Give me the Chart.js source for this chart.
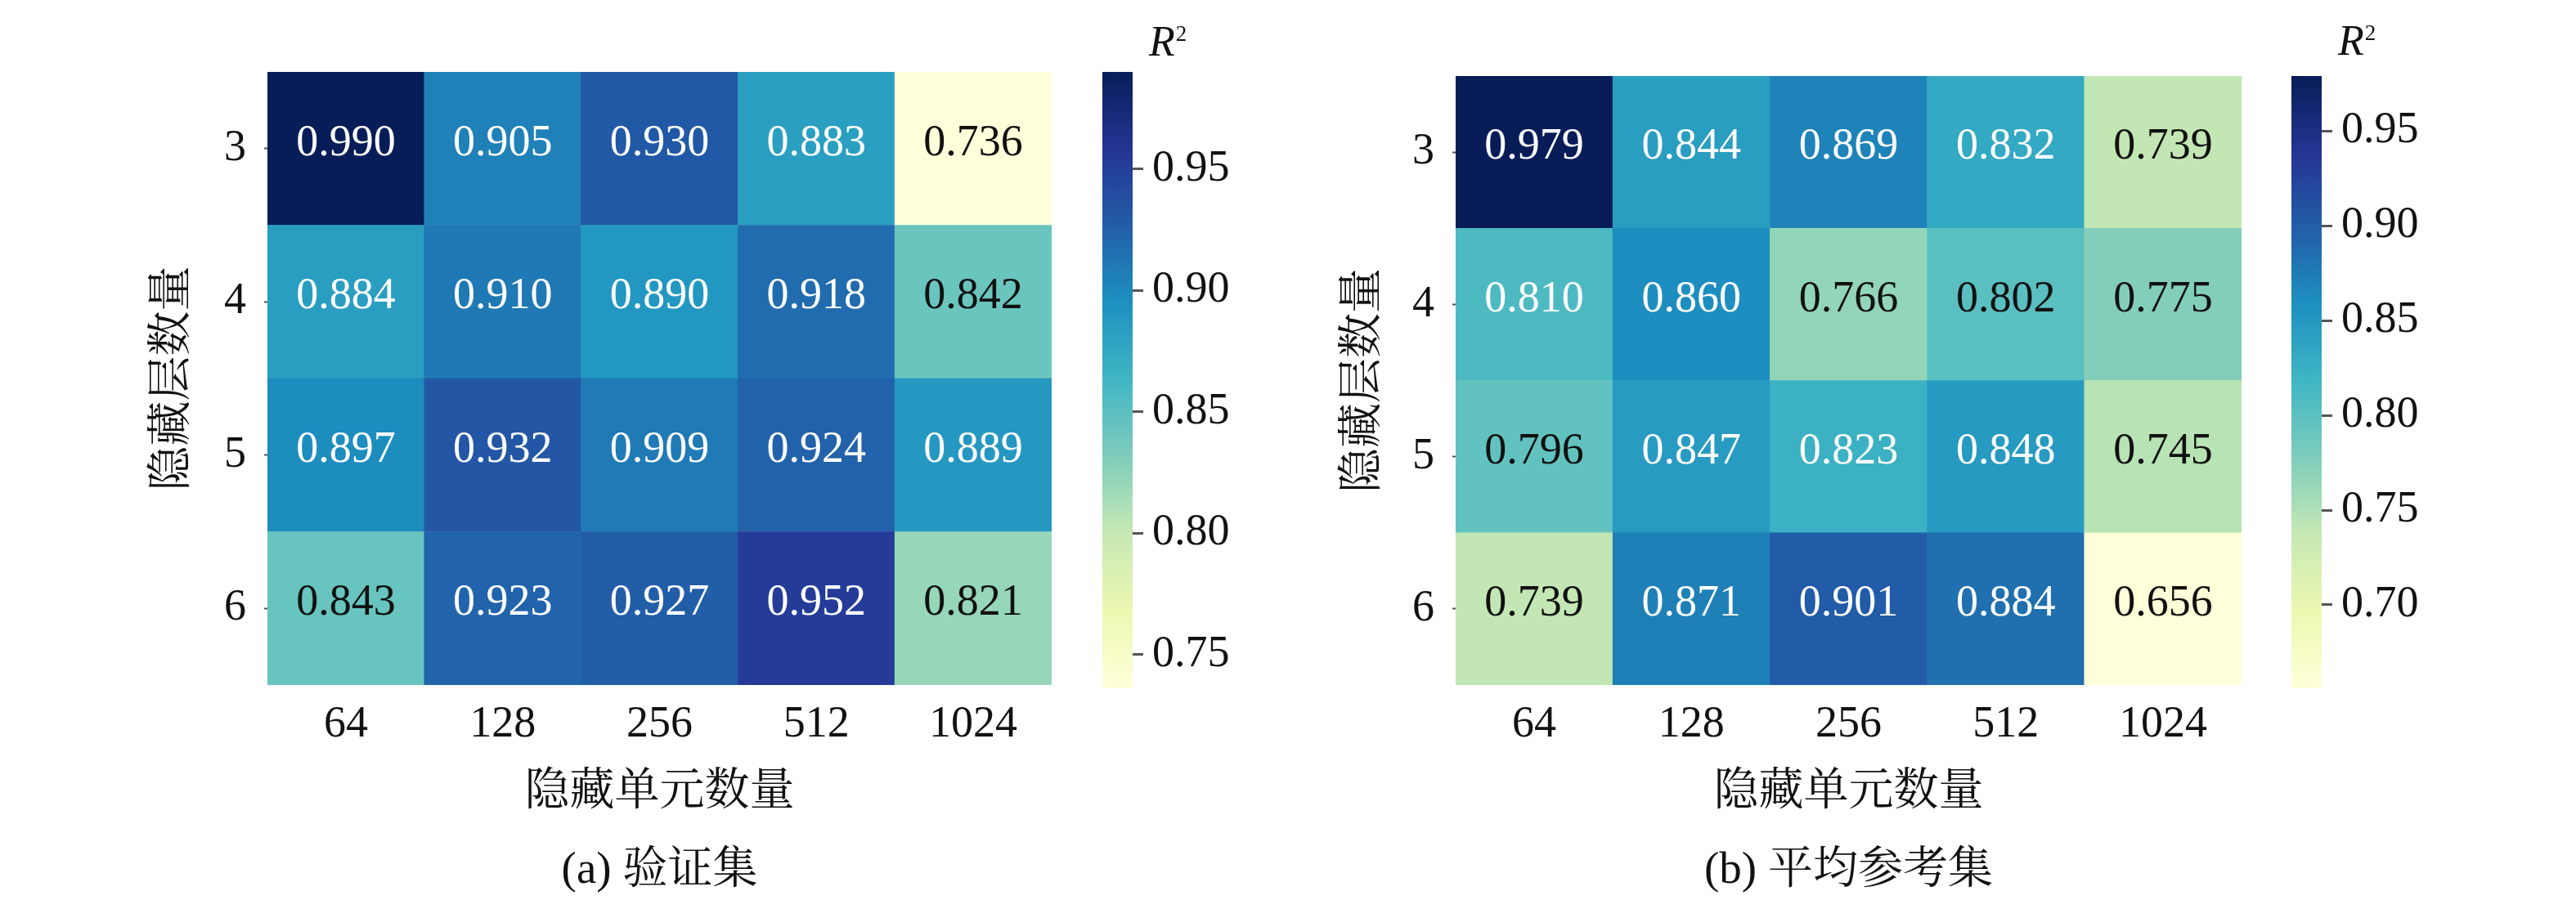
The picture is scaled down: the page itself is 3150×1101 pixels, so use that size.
<!DOCTYPE html>
<html>
<head>
<meta charset="utf-8">
<title>隐藏层数量 / 隐藏单元数量 R² 热力图</title>
<script src="https://cdn.jsdelivr.net/npm/chart.js@4.4.1/dist/chart.umd.min.js"></script>
<style>
  html, body { margin: 0; padding: 0; background: #fff; }
  #wrap { position: relative; width: 3150px; height: 1101px; overflow: hidden; background: #fff; }
  #wrap canvas { position: absolute; top: 0; }
</style>
</head>
<body>
<div id="wrap">
  <canvas id="heatA" width="1150" height="1101" style="left:150px;width:1150px;height:1101px"></canvas>
  <canvas id="barA" width="260" height="1101" style="left:1300px;width:260px;height:1101px"></canvas>
  <canvas id="heatB" width="1150" height="1101" style="left:1600px;width:1150px;height:1101px"></canvas>
  <canvas id="barB" width="260" height="1101" style="left:2750px;width:260px;height:1101px"></canvas>
</div>
<script>
// Données
const units = ['64', '128', '256', '512', '1024'];
const layers = ['3', '4', '5', '6'];

// (a) 验证集 : une ligne par nombre de couches cachées (3 -> 6)
const valuesA = [
    [0.990, 0.905, 0.930, 0.883, 0.736],
    [0.884, 0.910, 0.890, 0.918, 0.842],
    [0.897, 0.932, 0.909, 0.924, 0.889],
    [0.843, 0.923, 0.927, 0.952, 0.821]
];

// (b) 平均参考集
const valuesB = [
    [0.979, 0.844, 0.869, 0.832, 0.739],
    [0.810, 0.860, 0.766, 0.802, 0.775],
    [0.796, 0.847, 0.823, 0.848, 0.745],
    [0.739, 0.871, 0.901, 0.884, 0.656]
];

const cbTicksA = [0.75, 0.80, 0.85, 0.90, 0.95];
const cbTicksB = [0.70, 0.75, 0.80, 0.85, 0.90, 0.95];

// palette YlGnBu
const ylgnbu = ['#ffffd9', '#edf8b1', '#c7e9b4', '#7fcdbb', '#41b6c4', '#1d91c0', '#225ea8', '#253494', '#081d58'];

Chart.defaults.font.family = "'Liberation Serif', 'Times New Roman', 'Noto Serif CJK SC', 'Noto Sans CJK SC', serif";
Chart.defaults.color = '#111';

const cmapRgb = ylgnbu.map(h => [1, 3, 5].map(i => parseInt(h.substr(i, 2), 16)));

function cmap(t) {
    t = Math.min(1, Math.max(0, t));
    const pos = t * (cmapRgb.length - 1);
    const i = Math.min(Math.floor(pos), cmapRgb.length - 2);
    const f = pos - i;
    return cmapRgb[i].map((c, k) => Math.round(c + (cmapRgb[i + 1][k] - c) * f));
}

function luminance(rgb) {
    const lin = rgb.map(c => {
        c /= 255;
        return c <= 0.03928 ? c / 12.92 : Math.pow((c + 0.055) / 1.055, 2.4);
    });
    return 0.2126 * lin[0] + 0.7152 * lin[1] + 0.0722 * lin[2];
}

// texte des cellules
const cellLabels = {
    id: 'cellLabels',
    afterDatasetsDraw(chart) {
        const ctx = chart.ctx;
        ctx.save();
        ctx.font = "54px 'Liberation Serif', 'Times New Roman', serif";
        ctx.textAlign = 'center';
        ctx.textBaseline = 'middle';
        chart.data.datasets.forEach((ds, d) => {
            chart.getDatasetMeta(d).data.forEach((el, i) => {
                ctx.fillStyle = ds.textColors[i];
                ctx.fillText(ds.cellValues[i].toFixed(3), el.x, (el.y + el.base) / 2 - 6);
            });
        });
        ctx.restore();
    }
};

// étiquette R² au-dessus de la barre de couleur
function r2Label(baseline) {
    return {
        id: 'r2Label',
        afterDraw(chart) {
            const { ctx, chartArea } = chart;
            const x = chartArea.right + 20;
            ctx.save();
            ctx.fillStyle = '#111';
            ctx.textAlign = 'left';
            ctx.textBaseline = 'alphabetic';
            ctx.font = "italic 52px 'Liberation Serif', 'Times New Roman', serif";
            ctx.fillText('R', x, baseline);
            const w = ctx.measureText('R').width;
            ctx.font = "27px 'Liberation Serif', 'Times New Roman', serif";
            ctx.fillText('2', x + w + 1, baseline - 18);
            ctx.restore();
        }
    };
}

function heatmap(id, values, caption, pad, yWidth) {
    const flat = values.flat();
    const vmin = Math.min(...flat);
    const vmax = Math.max(...flat);

    // la ligne du bas (6 couches) en premier dans la pile
    const datasets = layers.map((_, k) => {
        const r = layers.length - 1 - k;
        const rgbs = values[r].map(v => cmap((v - vmin) / (vmax - vmin)));
        return {
            label: layers[r],
            data: units.map(() => 1),
            cellValues: values[r],
            backgroundColor: rgbs.map(c => `rgb(${c.join(',')})`),
            textColors: rgbs.map(c => luminance(c) > 0.408 ? '#111' : '#fff'),
            barPercentage: 1,
            categoryPercentage: 1,
            borderWidth: 0
        };
    });

    new Chart(document.getElementById(id), {
        type: 'bar',
        data: { labels: units, datasets: datasets },
        options: {
            responsive: false,
            animation: false,
            layout: { padding: pad },
            plugins: {
                legend: { display: false },
                tooltip: { enabled: false },
                title: {
                    display: true,
                    position: 'bottom',
                    fullSize: false,
                    text: caption,
                    color: '#111',
                    font: { size: 55, weight: 'normal', lineHeight: 1.2 },
                    padding: { top: 30, bottom: 0 }
                }
            },
            scales: {
                x: {
                    type: 'category',
                    stacked: true,
                    grid: { display: false, drawTicks: false },
                    border: { display: false },
                    ticks: { font: { size: 54, lineHeight: 1 }, padding: 22, color: '#111', maxRotation: 0, autoSkip: false },
                    title: { display: true, text: '隐藏单元数量', color: '#111', font: { size: 55, lineHeight: 1.2 }, padding: 0 },
                    afterFit: s => { s.height = 165; }
                },
                y: {
                    type: 'linear',
                    stacked: true,
                    min: 0,
                    max: layers.length,
                    grid: { display: true, drawOnChartArea: false, tickLength: 4, tickWidth: 2, tickColor: '#555' },
                    border: { display: false },
                    afterBuildTicks: s => { s.ticks = layers.map((_, i) => ({ value: i + 0.5 })); },
                    ticks: {
                        font: { size: 54, lineHeight: 1 },
                        padding: 22,
                        color: '#111',
                        callback: (v, i) => layers[layers.length - 1 - i]
                    },
                    title: { display: true, text: '隐藏层数量', color: '#111', font: { size: 55, lineHeight: 1.2 }, padding: 0 },
                    afterFit: s => { s.width = yWidth; }
                }
            }
        },
        plugins: [cellLabels]
    });
    return { vmin, vmax };
}

function colorbar(id, range, ticks, pad, rBaseline) {
    new Chart(document.getElementById(id), {
        type: 'bar',
        data: {
            labels: [''],
            datasets: [{
                data: [[range.vmin, range.vmax]],
                backgroundColor: (c) => {
                    const area = c.chart.chartArea;
                    if (!area) return ylgnbu[4];
                    const g = c.chart.ctx.createLinearGradient(0, area.bottom, 0, area.top);
                    ylgnbu.forEach((col, i) => g.addColorStop(i / (ylgnbu.length - 1), col));
                    return g;
                },
                barPercentage: 1,
                categoryPercentage: 1,
                borderWidth: 0
            }]
        },
        options: {
            responsive: false,
            animation: false,
            layout: { padding: pad },
            plugins: { legend: { display: false }, tooltip: { enabled: false } },
            scales: {
                x: { display: false },
                y: {
                    position: 'right',
                    min: range.vmin,
                    max: range.vmax,
                    grid: { display: true, drawOnChartArea: false, tickLength: 13, tickWidth: 3, tickColor: '#555' },
                    border: { display: false },
                    afterBuildTicks: s => { s.ticks = ticks.map(v => ({ value: v })); },
                    ticks: { font: { size: 54, lineHeight: 1 }, padding: 11, color: '#111', callback: v => v.toFixed(2) },
                    afterFit: s => { s.width = 150; }
                }
            }
        },
        plugins: [r2Label(rBaseline)]
    });
}

const rangeA = heatmap('heatA', valuesA, '(a) 验证集', { left: 29, right: 14, top: 88, bottom: 2 }, 148);
colorbar('barA', rangeA, cbTicksA, { left: 48, right: 25, top: 88, bottom: 259 }, 68);

const rangeB = heatmap('heatB', valuesB, '(b) 平均参考集', { left: 35, right: 9, top: 93, bottom: 2 }, 145);
colorbar('barB', rangeB, cbTicksB, { left: 52, right: 21, top: 93, bottom: 259 }, 67);
</script>
</body>
</html>
